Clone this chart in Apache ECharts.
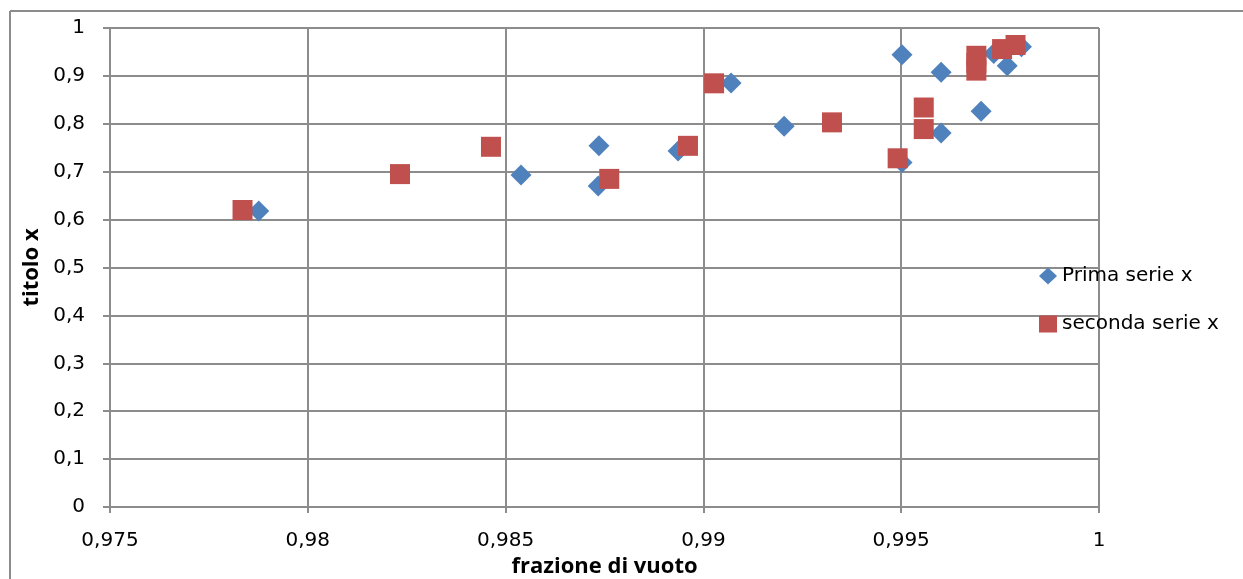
<!DOCTYPE html>
<html>
<head>
<meta charset="utf-8">
<title>titolo x vs frazione di vuoto</title>
<script src="https://cdn.jsdelivr.net/npm/echarts@6/dist/echarts.min.js"></script>
<style>
  html, body { margin: 0; padding: 0; background: #ffffff; }
  #chart { width: 1243px; height: 579px; }
</style>
</head>
<body>
<div id="chart"></div>
<script>
// Void fraction (x) and quality (y) for the two measurement series
const primaX = [0.97876, 0.98539, 0.98736, 0.98734, 0.98936, 0.99070, 0.99204, 0.99502,
                0.99601, 0.99601, 0.99702, 0.99502, 0.99734, 0.99768, 0.99804];
const primaY = [0.618, 0.693, 0.754, 0.670, 0.743, 0.885, 0.795, 0.944,
                0.9075, 0.781, 0.826, 0.719, 0.947, 0.921, 0.961];

const secondaX = [0.97835, 0.98233, 0.98463, 0.98762, 0.98961, 0.99027, 0.99325, 0.99557,
                  0.99557, 0.99491, 0.99690, 0.99690, 0.99690, 0.99755, 0.99789];
const secondaY = [0.620, 0.695, 0.752, 0.685, 0.754, 0.8845, 0.803, 0.789,
                  0.834, 0.728, 0.942, 0.927, 0.911, 0.956, 0.9645];

const seriesNames = ['Prima serie x', 'seconda serie x'];
const xTickLabels = ['0,975', '0,98', '0,985', '0,99', '0,995', '1'];
const yTickLabels = ['0', '0,1', '0,2', '0,3', '0,4', '0,5', '0,6', '0,7', '0,8', '0,9', '1'];

const pairs = (xs, ys) => xs.map((x, i) => [x, ys[i]]);

const FONT = 'DejaVu Sans';
const GRID_COLOR = '#8c8c8c';

const chart = echarts.init(document.getElementById('chart'), null, { renderer: 'canvas' });

chart.setOption({
  backgroundColor: '#ffffff',
  animation: false,
  // chart-area frame (top and left edges fall inside the canvas)
  graphic: [
    { type: 'line', shape: { x1: 10, y1: 11, x2: 1243, y2: 11 },
      style: { stroke: GRID_COLOR, lineWidth: 2 }, z: -10 },
    { type: 'line', shape: { x1: 10, y1: 11, x2: 10, y2: 579 },
      style: { stroke: GRID_COLOR, lineWidth: 2 }, z: -10 }
  ],
  grid: { left: 110, right: 144, top: 28, bottom: 72, containLabel: false, outerBoundsMode: 'none' },
  xAxis: {
    type: 'value',
    min: 0.975,
    max: 1,
    interval: 0.005,
    name: 'frazione di vuoto',
    nameLocation: 'middle',
    nameGap: 49,
    nameTextStyle: { fontFamily: 'Open Sans', fontWeight: 'bold', fontSize: 22, color: '#000' },
    axisLine: { show: true, onZero: false, lineStyle: { color: GRID_COLOR, width: 2 } },
    axisTick: { show: true, length: 6, lineStyle: { color: GRID_COLOR, width: 2 } },
    axisLabel: {
      margin: 24,
      fontFamily: FONT, fontSize: 20, color: '#000',
      formatter: (v, i) => xTickLabels[i]
    },
    splitLine: { show: true, lineStyle: { color: GRID_COLOR, width: 2 } }
  },
  yAxis: {
    type: 'value',
    min: 0,
    max: 1,
    interval: 0.1,
    name: 'titolo x',
    nameLocation: 'middle',
    nameRotate: 90,
    nameGap: 65,
    nameTextStyle: { fontFamily: 'Open Sans', fontWeight: 'bold', fontSize: 22, color: '#000' },
    axisLine: { show: true, onZero: false, lineStyle: { color: GRID_COLOR, width: 2 } },
    axisTick: { show: true, length: 7, lineStyle: { color: GRID_COLOR, width: 2 } },
    axisLabel: {
      margin: 25,
      fontFamily: FONT, fontSize: 20, color: '#000',
      formatter: (v, i) => yTickLabels[i]
    },
    splitLine: { show: true, lineStyle: { color: GRID_COLOR, width: 2 } }
  },
  legend: {
    orient: 'vertical',
    left: 1034,
    top: 261,
    itemWidth: 18,
    itemHeight: 17,
    itemGap: 28,
    textStyle: { fontFamily: FONT, fontSize: 20, color: '#000' },
    data: [
      { name: seriesNames[0], icon: 'diamond' },
      { name: seriesNames[1], icon: 'rect' }
    ]
  },
  series: [
    {
      name: seriesNames[0],
      type: 'scatter',
      symbol: 'diamond',
      symbolSize: 21,
      itemStyle: { color: '#4F81BD', opacity: 1 },
      data: pairs(primaX, primaY),
      z: 2
    },
    {
      name: seriesNames[1],
      type: 'scatter',
      symbol: 'rect',
      symbolSize: 20,
      itemStyle: { color: '#C0504D', opacity: 1 },
      data: pairs(secondaX, secondaY),
      z: 3
    }
  ]
});
</script>
</body>
</html>
